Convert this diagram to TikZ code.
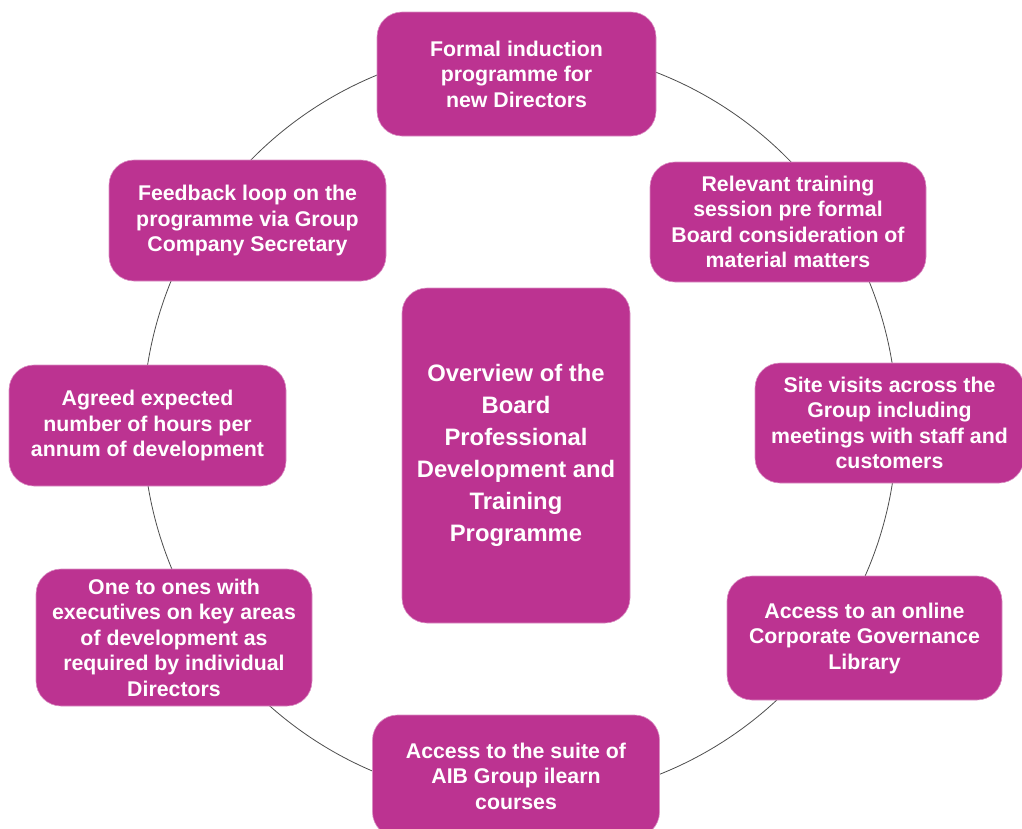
\documentclass[tikz,border=0pt]{standalone}
\usepackage{fontspec}
\setmainfont{Liberation Sans}
\definecolor{boxc}{RGB}{188,51,145}
\begin{document}
\begin{tikzpicture}[x=1pt,y=-1pt,
  item/.style={rectangle, rounded corners=25pt, fill=boxc, draw=boxc!55!white, line width=0.6pt,
    text=white, align=center, inner sep=0pt, font=\fontsize{21.3}{25.5}\selectfont\bfseries},
  hub/.style={item, font=\fontsize{23.8}{32}\selectfont\bfseries},
  ringstyle/.style={circle, draw=black!70, line width=0.8pt, inner sep=0pt}]
\useasboundingbox (0,0) rectangle (1022,828);
\clip (0,0) rectangle (1022,828);
\node[ringstyle, minimum size=754pt] (ring) at (520,424) {};
\node[item, minimum width=279pt, minimum height=124pt] (n1) at (516.5,74) {Formal induction\\programme for\\new Directors};
\node[item, minimum width=276pt, minimum height=120pt] (n2) at (788,222) {Relevant training\\session pre formal\\Board consideration of\\material matters};
\node[item, minimum width=269pt, minimum height=120pt] (n3) at (889.5,423) {Site visits across the\\Group including\\meetings with staff and\\customers};
\node[item, minimum width=275pt, minimum height=124pt] (n4) at (864.5,638) {Access to an online\\Corporate Governance\\Library};
\node[item, minimum width=287pt, minimum height=122pt] (n5) at (516,776) {Access to the suite of\\AIB Group ilearn\\courses};
\node[item, minimum width=276pt, minimum height=137pt] (n6) at (174,637.5) {One to ones with\\executives on key areas\\of development as\\required by individual\\Directors};
\node[item, minimum width=277pt, minimum height=121pt] (n7) at (147.5,425.5) {Agreed expected\\number of hours per\\annum of development};
\node[item, minimum width=277pt, minimum height=121pt] (n8) at (247.5,220.5) {Feedback loop on the\\programme via Group\\Company Secretary};
\node[hub, minimum width=228pt, minimum height=335pt] (hub) at (516,455.5) {Overview of the\\Board\\Professional\\Development and\\Training\\Programme};
\end{tikzpicture}
\end{document}
